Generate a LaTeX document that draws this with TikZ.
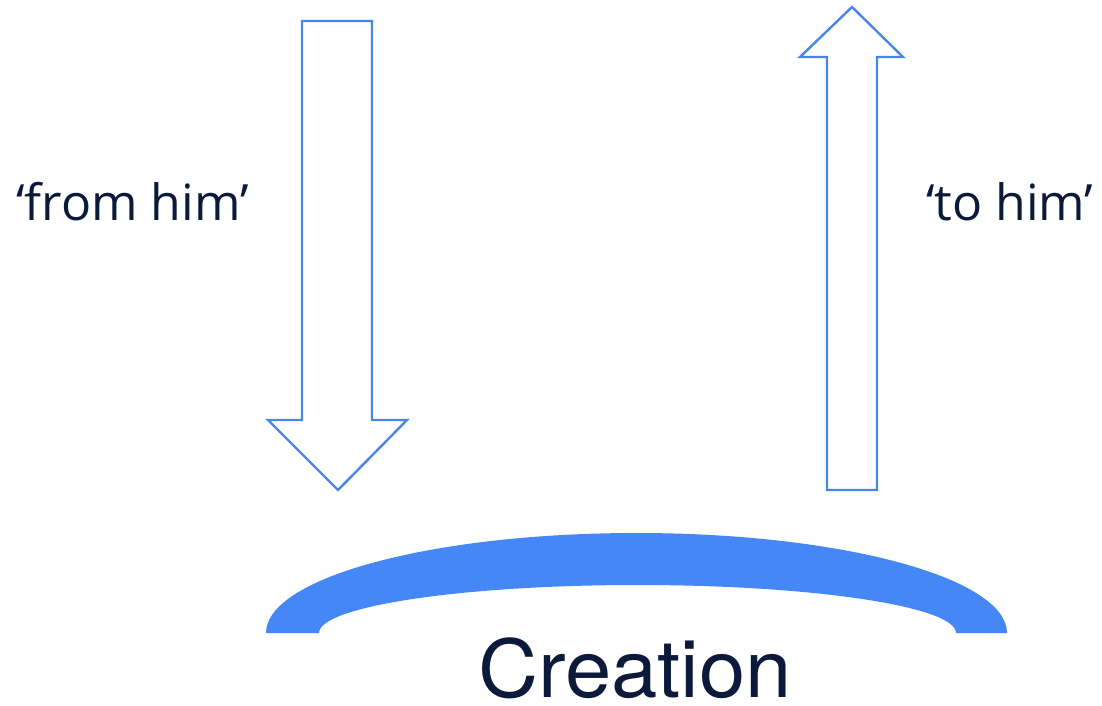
\documentclass[tikz,border=0pt]{standalone}
\usepackage{fontspec}
\setmainfont{Open Sans}
\newfontfamily\headfont[FakeStretch=1.04]{TeX Gyre Heros}
\definecolor{arrowblue}{HTML}{4A86E8}
\definecolor{arcblue}{HTML}{4587F4}
\definecolor{navy}{HTML}{0B1A3A}
\tikzset{
  blockarrow/.style={draw=arrowblue, line width=2.4pt, fill=white, line join=miter},
  label/.style={text=navy, inner sep=0pt, anchor=base west, font=\fontsize{50}{54}\selectfont},
}
\begin{document}
\begin{tikzpicture}[x=1pt,y=-1pt]
\useasboundingbox (0,0) rectangle (1102,706);
% down arrow
\draw[blockarrow] (302,21) -- (372,21) -- (372,420) -- (407,420) -- (338,490) -- (268,420) -- (302,420) -- cycle;
% up arrow
\draw[blockarrow] (827,490) -- (877,490) -- (877,57) -- (903,57) -- (852,7) -- (800,57) -- (827,57) -- cycle;
% creation arc
\fill[arcblue] (266,633) arc[start angle=180,end angle=360,x radius=370.5,y radius=100] -- (956,633) arc[start angle=0,end angle=-180,x radius=318.5,y radius=48] -- cycle;
\node[label] (from) at (16,220) {‘from him’};
\node[label] (to) at (926,220) {‘to him’};
\node[text=navy, inner sep=0pt, text depth=0pt, anchor=base west, font=\headfont\fontsize{80}{88}\selectfont] (creation) at (478,697) {Creation};
\end{tikzpicture}
\end{document}
